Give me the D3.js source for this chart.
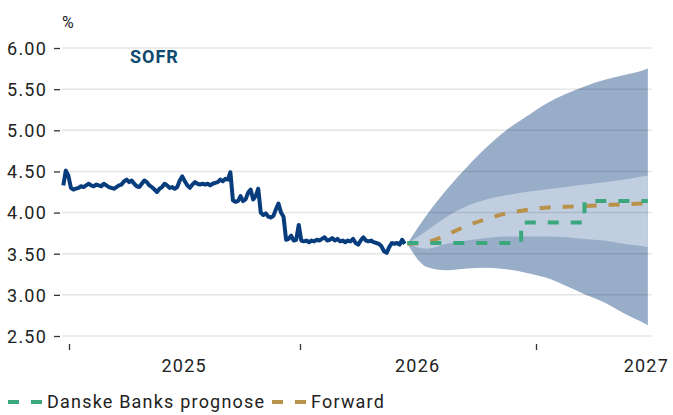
<!DOCTYPE html>
<html>
<head>
<meta charset="utf-8">
<script src="https://cdn.jsdelivr.net/npm/d3@7"></script>
<style>
  body { margin: 0; background: #fff; }
  text { font-family: Roboto, "DejaVu Sans", sans-serif; }
</style>
</head>
<body>
<script>
const W = 673, H = 415;

// history: one value every 4 days from 2024-12-23
const histStart = new Date(2024, 11, 23);
const histStepDays = 4;
const histValues = [
  4.33, 4.51, 4.45, 4.30, 4.28, 4.29, 4.30, 4.32, 4.31, 4.33,
  4.35, 4.33, 4.32, 4.34, 4.33, 4.32, 4.35, 4.33, 4.31, 4.30,
  4.29, 4.31, 4.33, 4.34, 4.38, 4.40, 4.37, 4.39, 4.35, 4.32,
  4.31, 4.35, 4.39, 4.37, 4.33, 4.31, 4.28, 4.25, 4.29, 4.31,
  4.35, 4.33, 4.30, 4.31, 4.29, 4.31, 4.39, 4.44, 4.38, 4.33,
  4.30, 4.34, 4.37, 4.35, 4.34, 4.35, 4.34, 4.35, 4.33, 4.35,
  4.36, 4.37, 4.40, 4.38, 4.41, 4.40, 4.49, 4.15, 4.13, 4.14,
  4.20, 4.14, 4.16, 4.24, 4.28, 4.16, 4.20, 4.29, 4.00, 3.97,
  3.99, 3.95, 3.94, 3.96, 4.04, 4.11, 4.00, 3.95, 3.67, 3.68,
  3.72, 3.66, 3.67, 3.85, 3.66, 3.65, 3.66, 3.64, 3.66, 3.65,
  3.67, 3.66, 3.68, 3.70, 3.66, 3.67, 3.69, 3.66, 3.68, 3.65,
  3.66, 3.64, 3.66, 3.65, 3.68, 3.63, 3.61, 3.66, 3.70, 3.66,
  3.65, 3.66, 3.64, 3.63, 3.62, 3.59, 3.53, 3.51, 3.58, 3.63,
  3.62, 3.63, 3.61, 3.67, 3.62
];

// forecast period
const fcDates = [
  "2026-06-16", "2026-07-16", "2026-08-16", "2026-09-16", "2026-10-16",
  "2026-11-16", "2026-12-16", "2027-01-16", "2027-02-16", "2027-03-16",
  "2027-04-16", "2027-05-16", "2027-06-16", "2027-06-23"
];
const outerHigh = [3.62, 3.97, 4.28, 4.55, 4.79, 5.00, 5.16, 5.32, 5.44, 5.53, 5.61, 5.67, 5.73, 5.75];
const outerLow  = [3.62, 3.34, 3.30, 3.32, 3.33, 3.31, 3.27, 3.21, 3.11, 3.01, 2.91, 2.78, 2.66, 2.63];
const innerHigh = [3.62, 3.78, 3.95, 4.08, 4.16, 4.21, 4.25, 4.28, 4.31, 4.34, 4.37, 4.40, 4.44, 4.45];
const innerLow  = [3.62, 3.56, 3.62, 3.66, 3.69, 3.71, 3.71, 3.71, 3.70, 3.68, 3.66, 3.62, 3.59, 3.58];
const forward   = [3.62, 3.64, 3.73, 3.84, 3.92, 3.99, 4.03, 4.06, 4.07, 4.08, 4.09, 4.10, 4.11, 4.11];

const danskeDates  = ["2026-06-16", "2026-12-09", "2027-03-17", "2027-06-23"];
const danskeValues = [3.63, 3.88, 4.14, 4.14];

const yTicks = [2.5, 3, 3.5, 4, 4.5, 5, 5.5, 6];
const yearTicks = [2025, 2026, 2027];

const parse = d3.timeParse("%Y-%m-%d");

const svg = d3.select("body").append("svg")
  .attr("width", W).attr("height", H);

const x = d3.scaleTime()
  .domain(yearTicks.map(y => new Date(y, 0, 1)))
  .range([69, 300, 536]);

const y = d3.scaleLinear().domain([2.5, 6]).range([336, 48]);

const hist = histValues.map((v, i) => ({ date: d3.timeDay.offset(histStart, i * histStepDays), v }));
const fc = fcDates.map((d, i) => ({
  date: parse(d), oh: outerHigh[i], ol: outerLow[i],
  ih: innerHigh[i], il: innerLow[i], fw: forward[i]
}));
const danske = danskeDates.map((d, i) => ({ date: parse(d), v: danskeValues[i] }));

// bands
svg.append("path").datum(fc)
  .attr("fill", "#98adc8")
  .attr("d", d3.area().curve(d3.curveMonotoneX)
    .x(d => x(d.date)).y0(d => y(d.ol)).y1(d => y(d.oh)));

svg.append("path").datum(fc)
  .attr("fill", "#c1cee0")
  .attr("d", d3.area().curve(d3.curveMonotoneX)
    .x(d => x(d.date)).y0(d => y(d.il)).y1(d => y(d.ih)));

// grid
svg.append("g").selectAll("line").data(yTicks).join("line")
  .attr("x1", 62).attr("x2", 652)
  .attr("y1", d => y(d)).attr("y2", d => y(d))
  .attr("stroke", "#000").attr("stroke-opacity", 0.1).attr("stroke-width", 1.5);

// y axis
const yAxis = svg.append("g").attr("transform", "translate(60,0)")
  .call(d3.axisLeft(y).tickValues(yTicks).tickFormat(d3.format(".2f")).tickSize(6).tickPadding(7));
yAxis.select(".domain").remove();
yAxis.selectAll(".tick line").attr("stroke", "#333").attr("stroke-width", 1.3);
yAxis.selectAll(".tick text")
  .attr("fill", "#222").style("font-size", "18px").style("letter-spacing", "1.2px")
  .style("font-family", "Roboto, sans-serif").attr("dy", "0.35em");

// x axis
const xAxis = svg.append("g").attr("transform", "translate(0,344)")
  .call(d3.axisBottom(x).tickValues(yearTicks.map(y => new Date(y, 0, 1))).tickFormat("").tickSize(6));
xAxis.select(".domain").remove();
xAxis.selectAll(".tick line").attr("stroke", "#333").attr("stroke-width", 1.3);

svg.append("g").selectAll("text").data(yearTicks).join("text")
  .attr("y", 372)
  .attr("fill", "#222")
  .style("font-size", "18px").style("letter-spacing", "1.2px")
  .text(d => d)
  .each(function (d) {
    const w = this.getComputedTextLength();
    const cx = Math.min(x(new Date(d, 6, 2)), W - 4 - w / 2);
    d3.select(this).attr("x", cx - w / 2);
  });

// lines
const dash = "11,12";
svg.append("path").datum(fc)
  .attr("fill", "none").attr("stroke", "#b8914a").attr("stroke-width", 4)
  .attr("stroke-dasharray", dash)
  .attr("d", d3.line().curve(d3.curveMonotoneX).x(d => x(d.date)).y(d => y(d.fw)));

svg.append("path").datum(danske)
  .attr("fill", "none").attr("stroke", "#3aa87c").attr("stroke-width", 4)
  .attr("stroke-dasharray", dash)
  .attr("d", d3.line().curve(d3.curveStepAfter).x(d => x(d.date)).y(d => y(d.v)));

svg.append("path").datum(hist)
  .attr("fill", "none").attr("stroke", "#083d7d").attr("stroke-width", 4)
  .attr("stroke-linejoin", "round")
  .attr("d", d3.line().x(d => x(d.date)).y(d => y(d.v)));

// labels
svg.append("text").attr("x", 62).attr("y", 28)
  .attr("fill", "#222").style("font-size", "16px").text("%");

svg.append("text").attr("x", 130).attr("y", 63)
  .attr("fill", "#0e4a70").style("font-size", "18px").style("font-weight", "bold")
  .style("letter-spacing", "1px").text("SOFR");

// legend
const legend = [
  { label: "Danske Banks prognose", color: "#3aa87c", x: 8 },
  { label: "Forward", color: "#b8914a", x: 272 }
];
const lg = svg.append("g").selectAll("g").data(legend).join("g")
  .attr("transform", d => `translate(${d.x},402)`);
lg.append("line").attr("x1", 0).attr("x2", 34)
  .attr("stroke", d => d.color).attr("stroke-width", 4).attr("stroke-dasharray", dash);
lg.append("text").attr("x", 39).attr("y", 6)
  .attr("fill", "#222").style("font-size", "18px").style("letter-spacing", "1.2px")
  .text(d => d.label);
</script>
</body>
</html>
